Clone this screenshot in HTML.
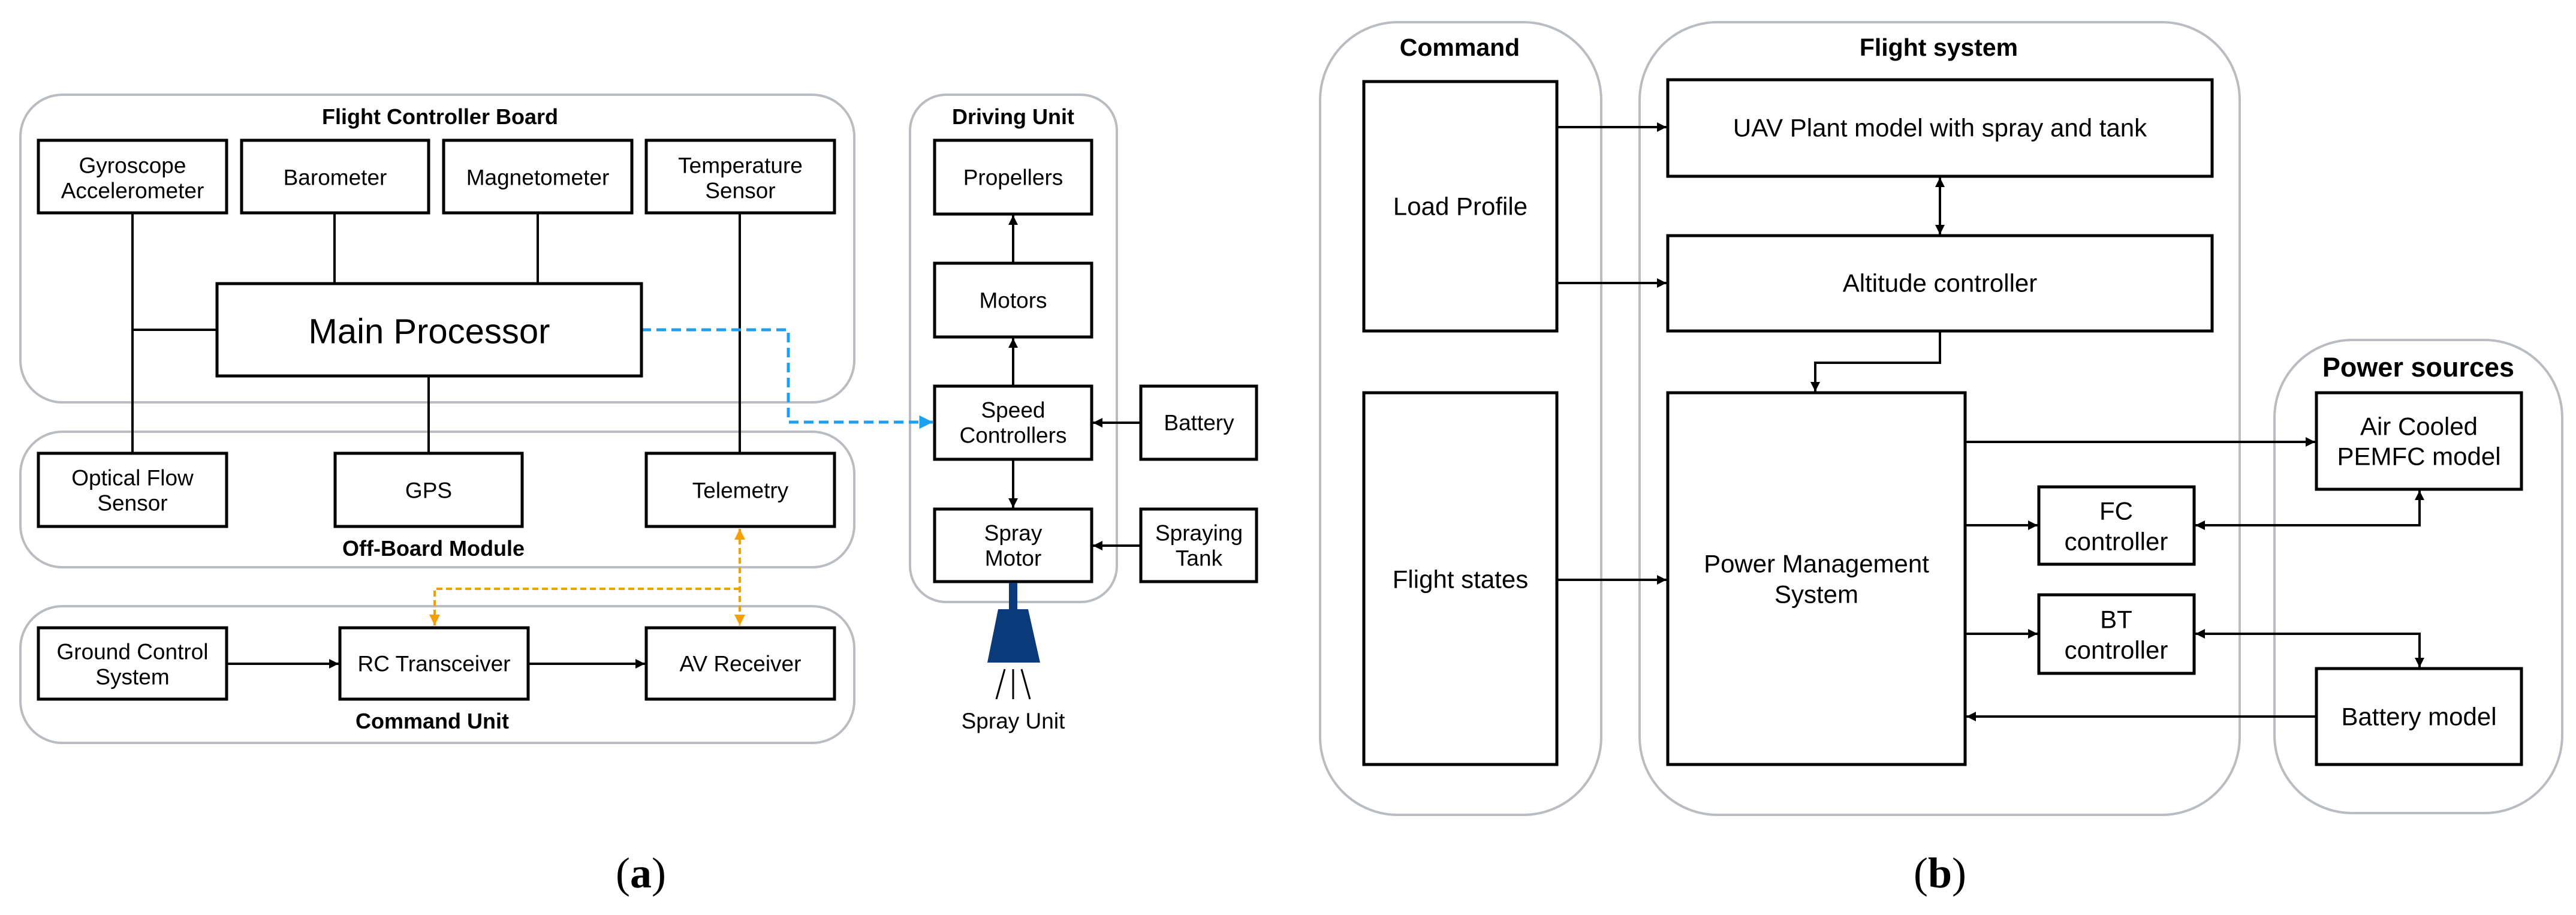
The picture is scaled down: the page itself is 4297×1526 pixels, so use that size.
<!DOCTYPE html>
<html><head><meta charset="utf-8"><style>
html,body{margin:0;padding:0;background:#fff;}
svg{display:block;}
text{font-family:"Liberation Sans",Arial,sans-serif;fill:#000;}
.t{font-size:37px;text-anchor:middle;dominant-baseline:central;}
.r{font-size:42px;text-anchor:middle;dominant-baseline:central;}
.h{font-weight:bold;text-anchor:middle;}
.b{fill:#fff;stroke:#000;stroke-width:5;}
.c{fill:none;stroke:#b9bdc1;stroke-width:4;}
.l{stroke:#000;stroke-width:4;fill:none;}
</style></head><body>
<svg width="4297" height="1526" viewBox="0 0 4297 1526" xmlns="http://www.w3.org/2000/svg">
<defs>
<marker id="ar" viewBox="0 0 10 10" refX="10" refY="5" markerWidth="4" markerHeight="4" orient="auto-start-reverse" markerUnits="strokeWidth"><path d="M0,0 L10,5 L0,10 z" fill="#000"/></marker>
<marker id="ao" viewBox="0 0 10 10" refX="10" refY="5" markerWidth="4.5" markerHeight="4.5" orient="auto-start-reverse" markerUnits="strokeWidth"><path d="M0,0 L10,5 L0,10 z" fill="#f5a000"/></marker>
<marker id="ab" viewBox="0 0 10 10" refX="10" refY="5" markerWidth="4.5" markerHeight="4.5" orient="auto-start-reverse" markerUnits="strokeWidth"><path d="M0,0 L10,5 L0,10 z" fill="#1ea0f0"/></marker>
</defs>

<!-- ===== Panel (a) ===== -->
<rect class="c" x="34" y="158" width="1391" height="513" rx="70"/>
<rect class="c" x="34" y="720" width="1391" height="226" rx="70"/>
<rect class="c" x="34" y="1011" width="1391" height="228" rx="70"/>
<rect class="c" x="1518" y="158" width="345" height="846" rx="60"/>

<text class="h" x="734" y="207" font-size="36">Flight Controller Board</text>
<text class="h" x="723" y="927" font-size="36">Off-Board Module</text>
<text class="h" x="721" y="1215" font-size="36">Command Unit</text>
<text class="h" x="1690" y="207" font-size="36">Driving Unit</text>

<path class="l" d="M221,355 V756 M221,550 H362 M558,355 V473 M897,355 V473 M1234,355 V756 M715,627 V756"/>
<path class="l" d="M378,1107 H565" marker-end="url(#ar)"/>
<path class="l" d="M881,1107 H1076" marker-end="url(#ar)"/>
<path d="M1234,882 V1043" stroke="#f5a000" stroke-width="4" stroke-dasharray="10,6" fill="none" marker-start="url(#ao)" marker-end="url(#ao)"/>
<path d="M1234,982 H725 V1043" stroke="#f5a000" stroke-width="4" stroke-dasharray="10,6" fill="none" marker-end="url(#ao)"/>
<path d="M1070,550 H1315 V704 H1556" stroke="#1ea0f0" stroke-width="5" stroke-dasharray="16,9" fill="none" marker-end="url(#ab)"/>

<rect class="b" x="64" y="234" width="314" height="121"/>
<text class="t" x="221" y="276">Gyroscope</text><text class="t" x="221" y="318">Accelerometer</text>
<rect class="b" x="403" y="234" width="312" height="121"/>
<text class="t" x="559" y="296">Barometer</text>
<rect class="b" x="740" y="234" width="314" height="121"/>
<text class="t" x="897" y="296">Magnetometer</text>
<rect class="b" x="1078" y="234" width="314" height="121"/>
<text class="t" x="1235" y="276">Temperature</text><text class="t" x="1235" y="318">Sensor</text>

<rect class="b" x="362" y="473" width="708" height="154"/>
<text class="t" x="716" y="553" style="font-size:58px">Main Processor</text>

<rect class="b" x="64" y="756" width="314" height="122"/>
<text class="t" x="221" y="797">Optical Flow</text><text class="t" x="221" y="839">Sensor</text>
<rect class="b" x="559" y="756" width="312" height="122"/>
<text class="t" x="715" y="818">GPS</text>
<rect class="b" x="1078" y="756" width="314" height="122"/>
<text class="t" x="1235" y="818">Telemetry</text>

<rect class="b" x="64" y="1047" width="314" height="119"/>
<text class="t" x="221" y="1087">Ground Control</text><text class="t" x="221" y="1129">System</text>
<rect class="b" x="567" y="1047" width="314" height="119"/>
<text class="t" x="724" y="1107">RC Transceiver</text>
<rect class="b" x="1078" y="1047" width="314" height="119"/>
<text class="t" x="1235" y="1107">AV Receiver</text>

<path class="l" d="M1690,439 V359" marker-end="url(#ar)"/>
<path class="l" d="M1690,644 V564" marker-end="url(#ar)"/>
<path class="l" d="M1690,766 V847" marker-end="url(#ar)"/>
<path class="l" d="M1903,705 H1823" marker-end="url(#ar)"/>
<path class="l" d="M1903,910 H1823" marker-end="url(#ar)"/>
<rect class="b" x="1559" y="234" width="262" height="123"/>
<text class="t" x="1690" y="296">Propellers</text>
<rect class="b" x="1559" y="439" width="262" height="123"/>
<text class="t" x="1690" y="501">Motors</text>
<rect class="b" x="1559" y="644" width="262" height="122"/>
<text class="t" x="1690" y="684">Speed</text><text class="t" x="1690" y="726">Controllers</text>
<rect class="b" x="1559" y="849" width="262" height="121"/>
<text class="t" x="1690" y="889">Spray</text><text class="t" x="1690" y="931">Motor</text>
<rect class="b" x="1903" y="644" width="193" height="122"/>
<text class="t" x="2000" y="705">Battery</text>
<rect class="b" x="1903" y="849" width="193" height="121"/>
<text class="t" x="2000" y="889">Spraying</text><text class="t" x="2000" y="931">Tank</text>

<rect x="1683" y="972" width="14" height="46" fill="#0a3a7a"/>
<polygon points="1665,1016 1715,1016 1735,1105 1647,1105" fill="#0a3a7a"/>
<path d="M1690,1116 V1166 M1676,1116 L1662,1166 M1704,1116 L1718,1166" stroke="#000" stroke-width="3"/>
<text x="1690" y="1215" font-size="37" text-anchor="middle">Spray Unit</text>

<text x="1069" y="1480" font-size="72" text-anchor="middle" style="font-family:'Liberation Serif',serif">(<tspan font-weight="bold">a</tspan>)</text>

<!-- ===== Panel (b) ===== -->
<rect class="c" x="2202" y="37" width="469" height="1322" rx="130"/>
<rect class="c" x="2735" y="37" width="1001" height="1322" rx="130"/>
<rect class="c" x="3794" y="567" width="480" height="789" rx="130"/>
<text class="h" x="2435" y="93" font-size="41">Command</text>
<text class="h" x="3234" y="93" font-size="41">Flight system</text>
<text class="h" x="4034" y="628" font-size="45">Power sources</text>

<path class="l" d="M2597,212 H2780" marker-end="url(#ar)"/>
<path class="l" d="M2597,472 H2780" marker-end="url(#ar)"/>
<path class="l" d="M3236,296 V391" marker-start="url(#ar)" marker-end="url(#ar)"/>
<path class="l" d="M3236,552 V605 H3028 V653" marker-end="url(#ar)"/>
<path class="l" d="M2597,967 H2780" marker-end="url(#ar)"/>
<path class="l" d="M3278,737 H3862" marker-end="url(#ar)"/>
<path class="l" d="M3278,876 H3399" marker-end="url(#ar)"/>
<path class="l" d="M3662,876 H4036 V818" marker-start="url(#ar)" marker-end="url(#ar)"/>
<path class="l" d="M3278,1057 H3399" marker-end="url(#ar)"/>
<path class="l" d="M3662,1057 H4036 V1113" marker-start="url(#ar)" marker-end="url(#ar)"/>
<path class="l" d="M3864,1195 H3280" marker-end="url(#ar)"/>

<rect class="b" x="2275" y="136" width="322" height="416"/>
<text class="r" x="2436" y="344">Load Profile</text>
<rect class="b" x="2275" y="655" width="322" height="620"/>
<text class="r" x="2436" y="966">Flight states</text>
<rect class="b" x="2782" y="133" width="908" height="161"/>
<text class="r" x="3236" y="213">UAV Plant model with spray and tank</text>
<rect class="b" x="2782" y="393" width="908" height="159"/>
<text class="r" x="3236" y="472">Altitude controller</text>
<rect class="b" x="2782" y="655" width="496" height="620"/>
<text class="r" x="3030" y="940">Power Management</text><text class="r" x="3030" y="991">System</text>
<rect class="b" x="3401" y="812" width="259" height="129"/>
<text class="r" x="3530" y="852">FC</text><text class="r" x="3530" y="903">controller</text>
<rect class="b" x="3401" y="992" width="259" height="131"/>
<text class="r" x="3530" y="1033">BT</text><text class="r" x="3530" y="1084">controller</text>
<rect class="b" x="3864" y="655" width="342" height="161"/>
<text class="r" x="4035" y="711">Air Cooled</text><text class="r" x="4035" y="761">PEMFC model</text>
<rect class="b" x="3864" y="1115" width="342" height="160"/>
<text class="r" x="4035" y="1195">Battery model</text>

<text x="3236" y="1480" font-size="72" text-anchor="middle" style="font-family:'Liberation Serif',serif">(<tspan font-weight="bold">b</tspan>)</text>
</svg>
</body></html>
